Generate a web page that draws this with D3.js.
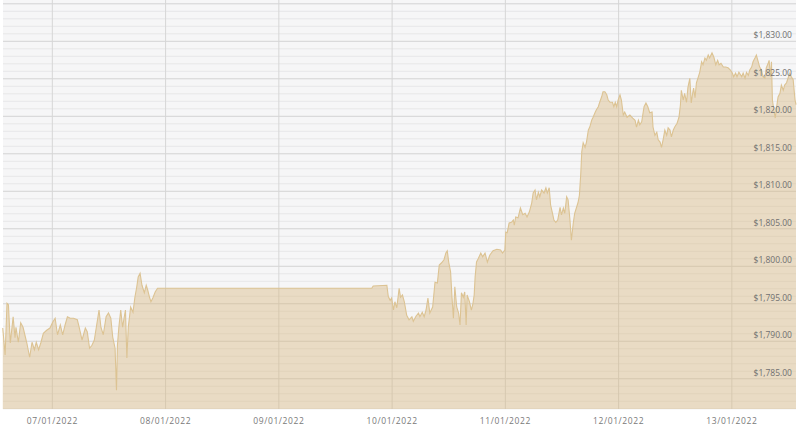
<!DOCTYPE html>
<html>
<head>
<meta charset="utf-8">
<script src="https://cdn.jsdelivr.net/npm/d3@7"></script>
<style>
body{margin:0;background:#fff;}
svg{display:block;}
text{font-family:"Open Sans","Liberation Sans",sans-serif;}
</style>
</head>
<body>
<svg class="chart"></svg>
<script>
// hours counted from 07/01/2022 00:00, price in USD
var firstSession=[[-10.4,1791.7],[-9.9,1788.1],[-9.5,1795.0],[-9.2,1794.8],[-8.8,1789.7],[-8.2,1793.2],[-7.8,1790.4],[-7.6,1791.8],[-7.1,1789.8],[-6.6,1792.4],
  [-6.1,1791.8],[-5.3,1789.7],[-4.7,1787.8],[-4.2,1789.8],[-3.7,1788.8],[-3.3,1789.8],[-2.8,1788.8],[-2.3,1789.8],[-1.8,1791.0],[-1.1,1791.4],
  [-0.4,1791.7],[0.2,1792.5],[0.7,1793.0],[1.2,1790.8],[1.8,1792.1],[2.3,1790.8],[2.8,1792.1],[3.3,1793.2],[3.9,1793.0],[4.6,1793.0],
  [5.4,1792.8],[5.8,1791.8],[6.4,1790.1],[7.1,1791.7],[7.5,1791.2],[8.0,1789.0],[8.5,1789.4],[9.0,1790.1],[9.5,1792.1],[10.0,1794.1],
  [10.4,1791.8],[10.9,1790.8],[11.5,1793.2],[12.0,1793.7],[12.5,1793.0],[12.9,1790.5],[13.4,1789.0],[13.7,1783.4],[13.9,1789.4],[14.2,1791.8],
  [14.6,1794.1],[15.0,1791.8],[15.3,1793.0],[15.6,1794.1],[15.9,1787.7],[16.2,1791.8],[16.7,1794.5],[17.2,1793.8],[17.6,1795.8],[18.0,1797.2],
  [18.3,1798.5],[18.7,1799.0],[19.1,1797.4],[19.6,1796.4],[20.0,1797.4],[20.3,1796.8],[20.7,1795.8],[21.0,1795.2],[21.4,1795.7],[21.9,1796.5],
  [22.4,1797.0]];
var weekend=[[67.8,1797.0],[68.1,1797.3],[71.0,1797.4]];
var secondWeek=[[71.3,1795.9],[71.7,1795.4],[72.0,1795.7],[72.4,1794.1],[72.7,1795.2],[73.1,1794.4],[73.6,1797.0],[73.9,1795.8],[74.3,1796.1],[74.7,1795.2],
  [75.2,1793.4],[75.7,1792.8],[76.3,1793.2],[76.6,1792.6],[77.2,1793.3],[77.7,1793.7],[78.0,1793.2],[78.5,1793.8],[78.9,1793.2],[79.3,1794.1],
  [79.7,1795.7],[80.1,1793.7],[80.7,1794.5],[81.2,1797.8],[81.7,1797.7],[82.1,1800.1],[82.6,1800.4],[83.1,1800.8],[83.5,1801.7],[83.8,1802.0],
  [84.1,1800.5],[84.5,1799.2],[84.8,1795.8],[85.1,1793.0],[85.4,1797.2],[85.8,1794.5],[86.2,1793.7],[86.5,1792.1],[86.8,1796.4],[87.2,1795.8],
  [87.5,1796.5],[87.8,1792.1],[88.0,1796.1],[88.5,1795.2],[88.9,1794.1],[89.2,1794.8],[89.5,1796.1],[89.7,1798.5],[90.0,1800.5],[90.4,1801.0],
  [90.9,1801.7],[91.3,1801.2],[91.8,1801.7],[92.3,1800.5],[92.8,1801.4],[93.5,1802.0],[94.3,1802.2],[95.1,1802.1],[95.5,1801.7],[96.0,1802.1],
  [96.2,1804.5],[96.5,1804.4],[96.9,1805.7],[97.4,1805.8],[97.8,1806.1],[98.0,1805.4],[98.3,1806.5],[98.8,1806.4],[99.3,1807.7],[99.8,1806.8],
  [100.3,1807.0],[100.7,1806.5],[101.2,1807.2],[101.7,1808.4],[102.0,1809.7],[102.4,1810.1],[102.7,1808.8],[103.1,1809.8],[103.4,1809.2],[103.8,1810.1],
  [104.3,1809.7],[104.7,1810.4],[105.0,1809.7],[105.4,1810.4],[105.7,1808.1],[106.1,1807.0],[106.4,1806.1],[106.8,1805.8],[107.2,1806.1],[107.7,1807.8],
  [108.0,1806.8],[108.4,1807.7],[108.7,1807.0],[109.1,1809.2],[109.4,1808.8],[109.8,1806.1],[110.1,1803.4],[110.5,1805.7],[110.8,1807.0],[111.2,1807.8],
  [111.5,1808.4],[111.8,1809.4],[112.1,1812.4],[112.3,1815.2],[112.6,1816.4],[113.0,1815.8],[113.3,1816.5],[113.7,1818.1],[114.0,1818.5],[114.4,1819.4],
  [114.7,1819.8],[115.1,1820.4],[115.4,1820.8],[115.8,1821.2],[116.1,1821.8],[116.5,1822.5],[116.8,1823.2],[117.2,1823.2],[117.6,1822.8],[117.9,1822.1],
  [118.3,1821.8],[118.8,1821.8],[119.1,1821.2],[119.4,1821.8],[119.7,1821.2],[120.0,1822.1],[120.4,1822.8],[120.7,1822.1],[121.1,1820.1],[121.4,1820.5],
  [121.9,1819.8],[122.5,1820.1],[123.1,1819.7],[123.6,1819.4],[123.9,1818.5],[124.3,1819.4],[124.6,1818.8],[125.0,1819.2],[125.5,1821.2],[125.9,1821.7],
  [126.3,1821.2],[126.7,1820.4],[127.2,1820.5],[127.4,1818.5],[127.8,1817.4],[128.2,1817.8],[128.5,1816.8],[128.9,1816.5],[129.2,1815.8],[129.6,1817.0],
  [129.9,1818.1],[130.3,1817.4],[130.6,1818.4],[131.0,1818.1],[131.3,1817.2],[131.7,1818.1],[132.0,1818.5],[132.5,1819.0],[132.9,1819.8],[133.2,1821.4],
  [133.4,1823.4],[133.8,1822.1],[134.1,1823.0],[134.5,1821.8],[134.8,1823.8],[135.2,1825.0],[135.5,1821.7],[135.8,1823.0],[136.0,1823.7],[136.3,1822.4],
  [136.6,1824.4],[137.0,1825.2],[137.3,1825.8],[137.7,1827.2],[138.0,1826.8],[138.4,1827.7],[138.7,1827.4],[139.1,1828.1],[139.4,1827.7],[139.9,1828.4],
  [140.3,1827.8],[140.7,1826.8],[141.1,1827.4],[141.4,1826.8],[141.8,1827.0],[142.3,1826.5],[142.8,1826.5],[143.3,1826.4],[143.8,1826.1],[144.2,1825.7],
  [144.5,1825.2],[144.9,1825.7],[145.2,1825.2],[145.6,1825.8],[146.2,1825.2],[146.5,1825.7],[146.9,1825.0],[147.2,1825.8],[147.6,1825.4],[147.9,1826.1],
  [148.3,1826.5],[148.6,1827.2],[149.0,1827.7],[149.3,1828.1],[149.7,1827.2],[150.0,1826.5],[150.4,1826.1],[150.7,1825.2],[151.1,1825.0],[151.4,1826.4],
  [151.8,1827.0],[152.0,1827.4],[152.3,1825.2],[152.5,1827.2],[152.7,1822.1],[153.0,1820.8],[153.3,1819.7],[153.6,1821.2],[153.9,1822.5],[154.3,1823.0],
  [154.6,1824.1],[155.0,1823.4],[155.3,1824.1],[155.7,1824.4],[156.0,1825.0],[156.4,1825.7],[156.7,1825.2],[157.1,1824.8],[157.3,1823.4],[157.5,1822.1],
  [157.7,1821.5]];
var priceLabels=[1785,1790,1795,1800,1805,1810,1815,1820,1825,1830];
var hourRange=[-10.35,157.7];

var screen={width:800,height:428};
var margin={top:0,bottom:19,left:3,right:4};
var width=screen.width-margin.left-margin.right;
var height=screen.height-margin.top-margin.bottom;

var day0=new Date(2022,0,7);
var toDate=function(h){return new Date(day0.getTime()+h*3600000);};

var svg=d3.select("svg.chart")
          .attr("width",screen.width)
          .attr("height",screen.height);

var xscale=d3.scaleTime()
             .domain(hourRange.map(toDate))
             .range([0,width]);
var yscale=d3.scaleLinear()
             .domain([1780.9,1835.44])
             .range([height,0]);

var plot=svg.append("g")
            .attr("transform","translate("+margin.left+","+margin.top+")");

plot.append("rect")
    .attr("width",width)
    .attr("height",height)
    .attr("fill","#f6f6f7");

// minor and major horizontal grid
var minor=d3.range(1781,1836);
plot.append("g")
    .call(d3.axisLeft(yscale).tickValues(minor).tickSize(-width).tickFormat(""))
    .call(function(g){
      g.select(".domain").remove();
      g.selectAll("line")
       .attr("stroke",function(d){return d%5==0?"#d3d3d3":"#e7e7e8";});
    });

// vertical day lines
var days=d3.timeDay.range(toDate(hourRange[0]),toDate(hourRange[1]));
plot.append("g")
    .attr("transform","translate(0,"+height+")")
    .call(d3.axisBottom(xscale).tickValues(days).tickSize(-height).tickFormat(""))
    .call(function(g){
      g.select(".domain").remove();
      g.selectAll("line").attr("stroke","#d6d6d6");
    });

var series=firstSession.concat(weekend,secondWeek);
var area=d3.area()
           .x(function(d){return xscale(toDate(d[0]));})
           .y0(height)
           .y1(function(d){return yscale(d[1]);});
var line=d3.line()
           .x(function(d){return xscale(toDate(d[0]));})
           .y(function(d){return yscale(d[1]);});

plot.append("path")
    .datum(series)
    .attr("d",area)
    .attr("fill","rgba(214,181,121,0.4)");
plot.append("path")
    .datum(series)
    .attr("d",line)
    .attr("fill","none")
    .attr("stroke","#dcc393")
    .attr("stroke-width",1.1);

// price labels inside the plot
var yAxis=d3.axisLeft(yscale)
            .tickValues(priceLabels)
            .tickSize(0)
            .tickPadding(0)
            .tickFormat(function(d){return "$"+d3.format(",.2f")(d);});
plot.append("g")
    .attr("transform","translate("+(width-4)+",0)")
    .call(yAxis)
    .call(function(g){
      g.select(".domain").remove();
      g.selectAll("text")
       .attr("dy",-3)
       .attr("fill","#707070")
       .style("font-size","8.5px");
    });

var xAxis=d3.axisBottom(xscale)
            .tickValues(days)
            .tickSize(0)
            .tickPadding(9)
            .tickFormat(d3.timeFormat("%d/%m/%Y"));
plot.append("g")
    .attr("transform","translate(0,"+height+")")
    .call(xAxis)
    .call(function(g){
      g.select(".domain").remove();
      g.selectAll("text")
       .attr("fill","#7a7a7a")
       .style("font-size","8.5px")
       .style("letter-spacing","0.6px");
    });
</script>
</body>
</html>
